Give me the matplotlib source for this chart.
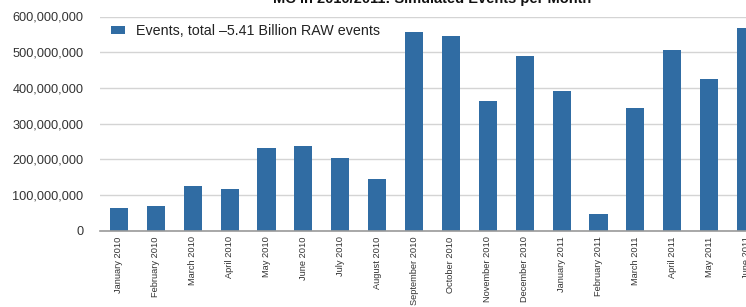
import matplotlib
matplotlib.use("Agg")
import matplotlib.pyplot as plt
from matplotlib import font_manager
from matplotlib.ticker import FuncFormatter
from matplotlib.patches import Patch

months = ["January 2010", "February 2010", "March 2010", "April 2010", "May 2010",
          "June 2010", "July 2010", "August 2010", "September 2010", "October 2010",
          "November 2010", "December 2010", "January 2011", "February 2011",
          "March 2011", "April 2011", "May 2011", "June 2011"]
events = [63e6, 69e6, 126e6, 116e6, 231e6, 236e6, 204e6, 146e6, 557e6, 545e6,
          364e6, 489e6, 390e6, 46e6, 343e6, 506e6, 424e6, 567e6]
yticks = [0, 100e6, 200e6, 300e6, 400e6, 500e6, 600e6]
title = "MC in 2010/2011: Simulated Events per Month"
legend_label = "Events, total \u20135.41 Billion RAW events"

names = {f.name for f in font_manager.fontManager.ttflist}
base = "Liberation Sans" if "Liberation Sans" in names else "DejaVu Sans"
if "Liberation Sans Narrow" in names:
    month_font = font_manager.FontProperties(family="Liberation Sans Narrow", size=8.1)
else:
    month_font = font_manager.FontProperties(family=base, size=6.65)

W, H, DPI = 746, 307, 100
fig = plt.figure(figsize=(W / DPI, H / DPI), dpi=DPI)
fig.patch.set_facecolor("white")

ax_left, ax_right = 100, 765
ax_bottom, ax_top = 230.7, 16.5
ax = fig.add_axes([ax_left / W, (H - ax_bottom) / H,
                   (ax_right - ax_left) / W, (ax_bottom - ax_top) / H])

x = list(range(len(months)))
bar_color = "#306ca3"
ax.bar(x, events, width=0.49, color=bar_color, zorder=3)

ax.set_xlim(-0.515, len(months) - 1 + 0.515)
ax.set_ylim(0, 600e6)
ax.set_yticks(yticks)
ax.yaxis.set_major_formatter(FuncFormatter(lambda v, p: f"{int(v):,}"))
ax.grid(axis="y", color="#d4d4d4", linewidth=1.0, zorder=0)
for s in ["top", "right", "left"]:
    ax.spines[s].set_visible(False)
ax.spines["bottom"].set_color("#9a9a9a")
ax.spines["bottom"].set_linewidth(1.2)
ax.spines["bottom"].set_zorder(4)

ax.set_xticks(x)
ax.set_xticklabels(months, rotation=90, fontproperties=month_font,
                   color="#333333", ha="center", va="top")
ax.tick_params(axis="x", length=0, pad=4)
ax.tick_params(axis="y", length=0, pad=12, labelsize=9.2, labelcolor="#333333")
for lbl in ax.get_yticklabels():
    lbl.set_fontfamily(base)

fig.text((ax_left + ax_right) / 2 / W, 1 - 3.5 / H, title, ha="center",
         va="baseline", fontsize=10.5, fontweight="bold", fontfamily=base,
         color="#111111")

handle = Patch(facecolor=bar_color, edgecolor="none")
leg = fig.legend(handles=[handle], labels=[legend_label], loc="upper left",
                 bbox_to_anchor=(111 / W, 1 - 24 / H), frameon=False,
                 borderpad=0, borderaxespad=0, handlelength=0.97,
                 handleheight=0.56, handletextpad=0.77,
                 prop={"family": base, "size": 10.3})
for t in leg.get_texts():
    t.set_color("#222222")

fig.savefig("out.png", dpi=DPI, facecolor="white")
